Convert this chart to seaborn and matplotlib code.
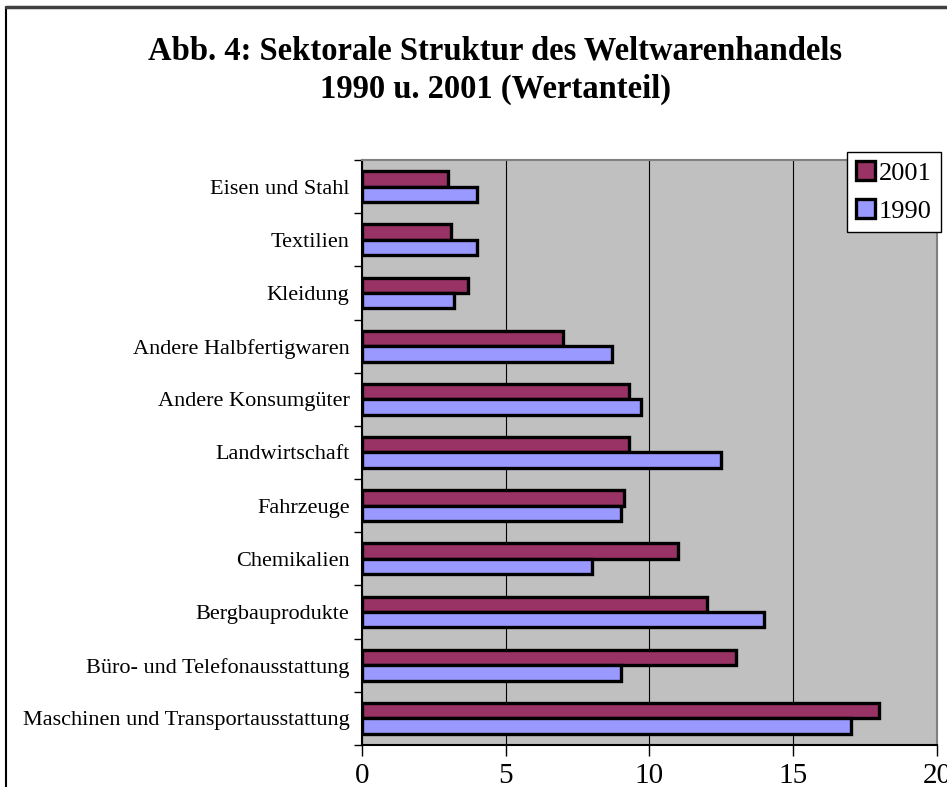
import numpy as np
import pandas as pd
import matplotlib
matplotlib.use('Agg')
import matplotlib.pyplot as plt
from matplotlib.lines import Line2D
import seaborn as sns

# Daten (Wertanteil in %)
kategorien = ['Eisen und Stahl', 'Textilien', 'Kleidung', 'Andere Halbfertigwaren',
              'Andere Konsumgüter', 'Landwirtschaft', 'Fahrzeuge', 'Chemikalien',
              'Bergbauprodukte', 'Büro- und Telefonausstattung',
              'Maschinen und Transportausstattung']
werte_2001 = [3.0, 3.1, 3.7, 7.0, 9.3, 9.3, 9.1, 11.0, 12.0, 13.0, 18.0]
werte_1990 = [4.0, 4.0, 3.2, 8.7, 9.7, 12.5, 9.0, 8.0, 14.0, 9.0, 17.0]
jahre = ['2001', '1990']
farben = ['#993366', '#9999FF']
x_ticks = [0, 5, 10, 15, 20]

df = pd.DataFrame({
    'Sektor': kategorien * 2,
    'Anteil': werte_2001 + werte_1990,
    'Jahr': ['2001'] * len(kategorien) + ['1990'] * len(kategorien),
})

sns.set_style('white')
plt.rcParams['font.family'] = ['Liberation Serif', 'DejaVu Serif']
plt.rcParams['text.color'] = 'black'
plt.rcParams['xtick.color'] = 'black'
plt.rcParams['ytick.color'] = 'black'

fig = plt.figure(figsize=(9.47, 7.87), dpi=100)
ax = fig.add_axes([0.3823, 0.0534, 0.607, 0.7433])

sns.barplot(data=df, y='Sektor', x='Anteil', hue='Jahr', hue_order=jahre,
            order=kategorien, palette=farben, saturation=1, width=0.58,
            edgecolor='black', linewidth=2.4, ax=ax)

ax.set_facecolor('#C0C0C0')
ax.set_xlim(0, 20)
ax.set_ylim(len(kategorien) - 0.5, -0.5)
ax.set_xticks(x_ticks)
ax.set_xticklabels([str(t) for t in x_ticks], fontsize=21)
ax.tick_params(axis='x', length=8, width=1, colors='black', pad=5, direction='out', bottom=True)
ax.tick_params(axis='y', which='major', length=0, pad=9, labelsize=16, labelcolor='black')
ax.set_yticks(np.arange(-0.5, len(kategorien), 1), minor=True)
ax.tick_params(axis='y', which='minor', length=6, width=1, color='black', direction='out', left=True)
ax.xaxis.grid(True, color='black', linewidth=0.8)
ax.yaxis.grid(False)
ax.set_axisbelow(True)
ax.set_xlabel('')
ax.set_ylabel('')

for s in ['left', 'bottom']:
    ax.spines[s].set_color('black')
    ax.spines[s].set_linewidth(1.5)
for s in ['top', 'right']:
    ax.spines[s].set_color('#808080')
    ax.spines[s].set_linewidth(1.5)

# Legende
handles, labels = ax.get_legend_handles_labels()
ax.legend_.remove()
leg = fig.legend(handles, labels, loc='upper right', bbox_to_anchor=(941 / 947, 1 - 152 / 787),
                 bbox_transform=fig.transFigure, fontsize=19, frameon=True, fancybox=False,
                 framealpha=1, facecolor='white',
                 handlelength=0.7, handleheight=0.7, handletextpad=0.15, borderpad=0.35,
                 labelspacing=0.55, borderaxespad=0)
leg.get_frame().set_edgecolor('black')
leg.get_frame().set_linewidth(1)

# Titel
fig.text(0.523, 1 - 70 / 787, 'Abb. 4: Sektorale Struktur des Weltwarenhandels\n1990 u. 2001 (Wertanteil)',
         ha='center', va='center', fontsize=23.5, fontweight='bold', linespacing=1.3,
         color='black')

# Rahmen des Diagrammbereichs (links und oben)
fig.add_artist(Line2D([6 / 947, 6 / 947], [0, 1 - 7 / 787], color='black', linewidth=1.5,
                      transform=fig.transFigure))
fig.add_artist(Line2D([6 / 947, 1], [1 - 7 / 787, 1 - 7 / 787], color='#404040', linewidth=2.5,
                      transform=fig.transFigure))

fig.savefig('out.png', dpi=100)
